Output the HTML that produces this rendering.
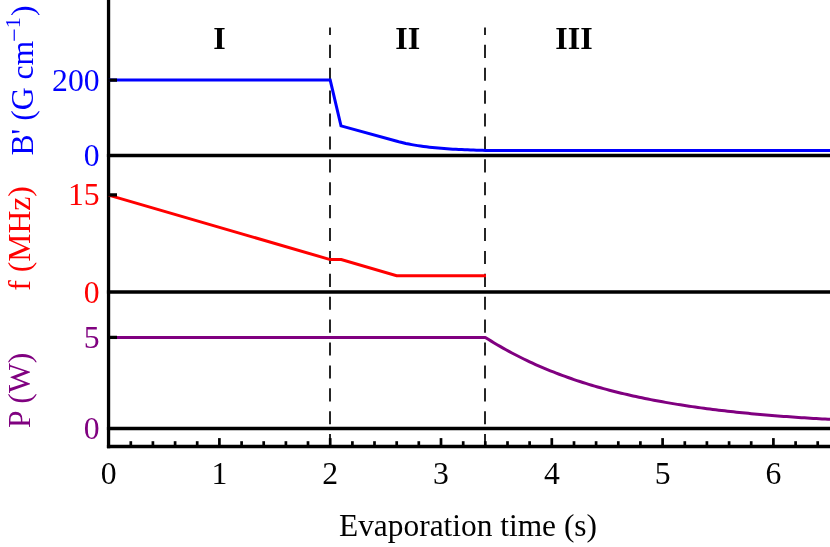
<!DOCTYPE html>
<html><head><meta charset="utf-8"><title>Evaporation</title>
<style>
html,body{margin:0;padding:0;background:#fff;}
body{width:830px;height:547px;overflow:hidden;}
svg{display:block;}
text{font-family:"Liberation Serif",serif;font-size:31.7px;}
.t{opacity:0.999;}
</style></head><body>
<svg width="830" height="547" viewBox="0 0 830 547">
<rect width="830" height="547" fill="#fff"/>
<!-- dashed region separators -->
<g stroke="#000" stroke-width="1.7" stroke-dasharray="13.1 9.8" stroke-dashoffset="5.6">
<line x1="330" x2="330" y1="27.5" y2="447"/>
<line x1="485" x2="485" y1="27.5" y2="447"/>
</g>
<!-- axes -->
<g stroke="#000" stroke-width="3.4" fill="none">
<line x1="108.55" x2="108.55" y1="0" y2="448.2" stroke-width="3.3"/>
<line x1="106.9" x2="830" y1="155.5" y2="155.5"/>
<line x1="106.9" x2="830" y1="292" y2="292"/>
<line x1="106.9" x2="830" y1="428.5" y2="428.5"/>
<line x1="106.9" x2="830" y1="446.45" y2="446.45"/>
</g>
<g stroke="#000" stroke-width="2.7">
<line x1="108.6" x2="108.6" y1="446" y2="438.1"/><line x1="130.8" x2="130.8" y1="446" y2="441.2"/><line x1="152.9" x2="152.9" y1="446" y2="441.2"/><line x1="175.1" x2="175.1" y1="446" y2="441.2"/><line x1="197.2" x2="197.2" y1="446" y2="441.2"/><line x1="219.4" x2="219.4" y1="446" y2="438.1"/><line x1="241.6" x2="241.6" y1="446" y2="441.2"/><line x1="263.7" x2="263.7" y1="446" y2="441.2"/><line x1="285.9" x2="285.9" y1="446" y2="441.2"/><line x1="308.0" x2="308.0" y1="446" y2="441.2"/><line x1="330.2" x2="330.2" y1="446" y2="438.1"/><line x1="352.4" x2="352.4" y1="446" y2="441.2"/><line x1="374.5" x2="374.5" y1="446" y2="441.2"/><line x1="396.7" x2="396.7" y1="446" y2="441.2"/><line x1="418.8" x2="418.8" y1="446" y2="441.2"/><line x1="441.0" x2="441.0" y1="446" y2="438.1"/><line x1="463.2" x2="463.2" y1="446" y2="441.2"/><line x1="485.3" x2="485.3" y1="446" y2="441.2"/><line x1="507.5" x2="507.5" y1="446" y2="441.2"/><line x1="529.6" x2="529.6" y1="446" y2="441.2"/><line x1="551.8" x2="551.8" y1="446" y2="438.1"/><line x1="574.0" x2="574.0" y1="446" y2="441.2"/><line x1="596.1" x2="596.1" y1="446" y2="441.2"/><line x1="618.3" x2="618.3" y1="446" y2="441.2"/><line x1="640.4" x2="640.4" y1="446" y2="441.2"/><line x1="662.6" x2="662.6" y1="446" y2="438.1"/><line x1="684.8" x2="684.8" y1="446" y2="441.2"/><line x1="706.9" x2="706.9" y1="446" y2="441.2"/><line x1="729.1" x2="729.1" y1="446" y2="441.2"/><line x1="751.2" x2="751.2" y1="446" y2="441.2"/><line x1="773.4" x2="773.4" y1="446" y2="438.1"/><line x1="795.6" x2="795.6" y1="446" y2="441.2"/><line x1="817.7" x2="817.7" y1="446" y2="441.2"/>
</g>
<!-- curves -->
<polyline points="108.60,80.10 330.20,80.10 341.00,125.90 397.00,141.30 399.94,142.08 402.89,142.79 405.83,143.46 408.77,144.06 411.72,144.63 414.66,145.14 417.60,145.62 420.55,146.06 423.49,146.47 426.43,146.84 429.38,147.19 432.32,147.51 435.26,147.80 438.21,148.07 441.15,148.32 444.09,148.55 447.04,148.76 449.98,148.96 452.92,149.14 455.87,149.31 458.81,149.46 461.75,149.60 464.70,149.73 467.64,149.85 470.58,149.96 473.53,150.06 476.47,150.16 479.41,150.25 482.36,150.33 485.30,150.40 832.00,150.40" fill="none" stroke="#0000ff" stroke-width="3.0" stroke-linejoin="miter"/>
<polyline points="108.60,195.10 330.20,259.60 341.20,259.60 396.60,275.80 486.00,275.80" fill="none" stroke="#ff0000" stroke-width="3.0" stroke-linejoin="miter"/>
<polyline points="108.60,337.40 485.32,337.40 488.27,339.28 491.23,341.12 494.18,342.92 497.14,344.69 500.09,346.41 503.05,348.10 506.00,349.76 508.96,351.38 511.91,352.96 514.87,354.52 517.82,356.04 520.78,357.52 523.73,358.98 526.69,360.41 529.64,361.80 532.59,363.17 535.55,364.51 538.50,365.82 541.46,367.10 544.41,368.36 547.37,369.59 550.32,370.79 553.28,371.97 556.23,373.12 559.19,374.25 562.14,375.36 565.10,376.44 568.05,377.50 571.01,378.54 573.96,379.55 576.91,380.55 579.87,381.52 582.82,382.47 585.78,383.41 588.73,384.32 591.69,385.21 594.64,386.09 597.60,386.95 600.55,387.78 603.51,388.61 606.46,389.41 609.42,390.20 612.37,390.97 615.33,391.72 618.28,392.46 621.23,393.18 624.19,393.89 627.14,394.58 630.10,395.26 633.05,395.93 636.01,396.58 638.96,397.21 641.92,397.84 644.87,398.45 647.83,399.04 650.78,399.63 653.74,400.20 656.69,400.76 659.65,401.31 662.60,401.85 665.55,402.37 668.51,402.89 671.46,403.39 674.42,403.89 677.37,404.37 680.33,404.84 683.28,405.30 686.24,405.76 689.19,406.20 692.15,406.64 695.10,407.06 698.06,407.48 701.01,407.88 703.97,408.28 706.92,408.67 709.87,409.06 712.83,409.43 715.78,409.80 718.74,410.16 721.69,410.51 724.65,410.85 727.60,411.19 730.56,411.52 733.51,411.84 736.47,412.16 739.42,412.47 742.38,412.77 745.33,413.07 748.29,413.36 751.24,413.64 754.19,413.92 757.15,414.19 760.10,414.46 763.06,414.72 766.01,414.97 768.97,415.22 771.92,415.47 774.88,415.71 777.83,415.94 780.79,416.17 783.74,416.40 786.70,416.62 789.65,416.83 792.61,417.04 795.56,417.25 798.51,417.45 801.47,417.65 804.42,417.84 807.38,418.03 810.33,418.22 813.29,418.40 816.24,418.58 819.20,418.75 822.15,418.92 825.11,419.09 828.06,419.26 831.02,419.42 833.97,419.57 836.93,419.73 839.88,419.88" fill="none" stroke="#800080" stroke-width="3" stroke-linejoin="round"/>
<g stroke="#000" stroke-width="3.3">
<line x1="108" x2="117" y1="80.1" y2="80.1"/>
<line x1="108" x2="117" y1="194.9" y2="194.9"/>
<line x1="108" x2="117" y1="337.4" y2="337.4"/>
</g>
<g class="t">
<!-- region labels -->
<g font-weight="bold" text-anchor="middle" style="font-size:33px">
<text x="219.4" y="48.5" style="font-size:32px">I</text>
<text x="407.8" y="48.5" style="font-size:32px">II</text>
<text x="574" y="48.5" style="font-size:32px">III</text>
</g>
<!-- y tick labels -->
<g text-anchor="end">
<text x="99.6" y="90.7" fill="#0000ff">200</text>
<text x="99.6" y="166" fill="#0000ff">0</text>
<text x="99.6" y="204.5" fill="#ff0000">15</text>
<text x="99.6" y="303.3" fill="#ff0000">0</text>
<text x="99.6" y="348" fill="#800080">5</text>
<text x="99.6" y="439" fill="#800080">0</text>
</g>
<!-- y axis titles -->
<text transform="translate(32.8,155.6) rotate(-90)" fill="#0000ff"><tspan x="0" y="0">B' (G cm</tspan><tspan x="113.9" y="-11.3" style="font-size:24px">−</tspan><tspan x="127.3" y="-13" style="font-size:22px">1</tspan><tspan x="139.6" y="0">)</tspan></text>
<text transform="translate(30.4,290.8) rotate(-90)" fill="#ff0000">f (MHz)</text>
<text transform="translate(30.2,428) rotate(-90)" fill="#800080">P (W)</text>
<!-- x labels -->
<g fill="#000"><text x="108.6" y="484" text-anchor="middle">0</text><text x="219.4" y="484" text-anchor="middle">1</text><text x="330.2" y="484" text-anchor="middle">2</text><text x="441.0" y="484" text-anchor="middle">3</text><text x="551.8" y="484" text-anchor="middle">4</text><text x="662.6" y="484" text-anchor="middle">5</text><text x="773.4" y="484" text-anchor="middle">6</text></g>
<text x="468" y="535.6" text-anchor="middle" fill="#000" style="font-size:31.4px">Evaporation time (s)</text>
</g>
</svg>
</body></html>
